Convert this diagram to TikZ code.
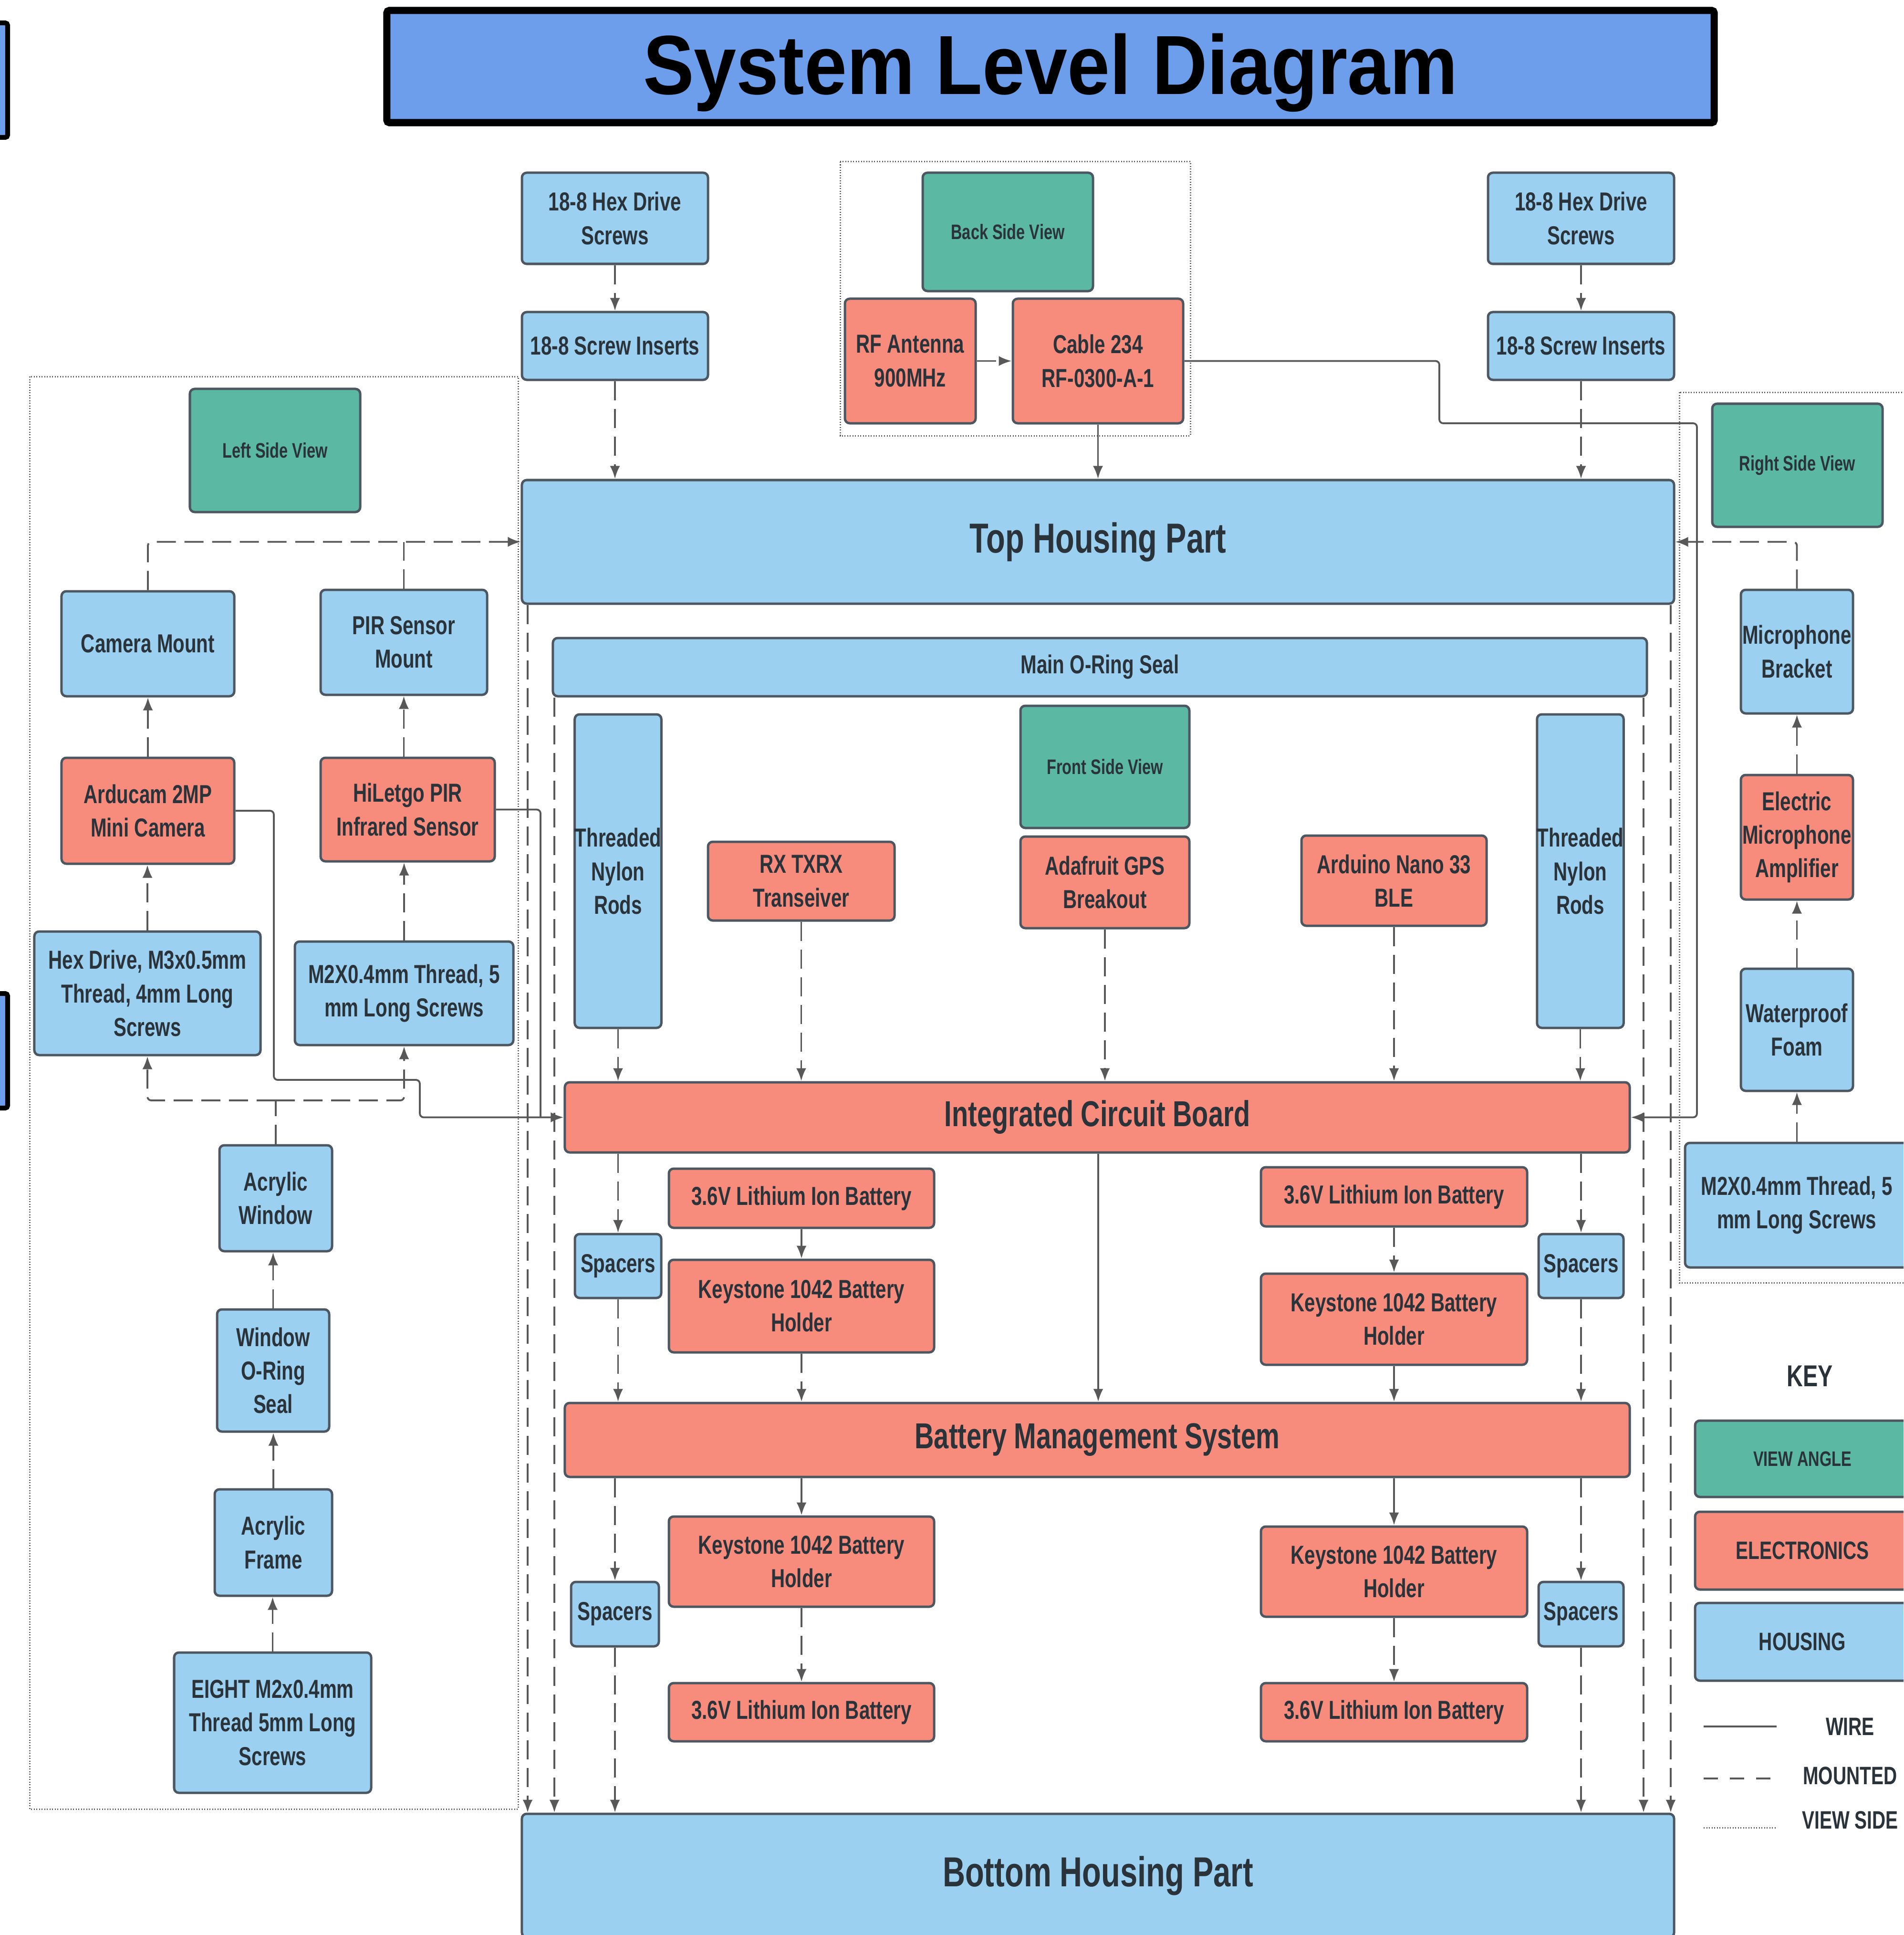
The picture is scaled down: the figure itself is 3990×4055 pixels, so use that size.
\documentclass[tikz,border=0pt]{standalone}
\usepackage{fontspec}
\setmainfont{Liberation Sans}
\newfontfamily\nf{Liberation Sans}[FakeStretch=0.74]
\newfontfamily\tf{Liberation Sans}[FakeStretch=0.91]
\usetikzlibrary{arrows.meta}
\definecolor{hblue}{RGB}{156,208,241}
\definecolor{esal}{RGB}{248,140,124}
\definecolor{vteal}{RGB}{91,184,163}
\definecolor{bcol}{RGB}{77,87,97}
\definecolor{tcol}{RGB}{42,50,58}
\definecolor{lcol}{RGB}{88,88,88}
\definecolor{ttlblue}{RGB}{109,158,235}
\newcommand\bx[7]{%
  \pgfmathsetmacro\bxcx{(#2+#4)/2}\pgfmathsetmacro\bxcy{(#3+#5)/2}%
  \pgfmathsetmacro\bxw{(#4-#2)*0.01}\pgfmathsetmacro\bxh{(#5-#3)*0.01}%
  \node[#6, minimum width=\bxw cm, minimum height=\bxh cm] (#1) at (\bxcx,\bxcy) {#7};}
\tikzset{
  nbase/.style={draw=bcol, line width=0.05cm, rounded corners=0.1cm, align=center, text=tcol, inner sep=0pt,
    font=\nf\bfseries\fontsize{15.5}{20}\selectfont},
  hous/.style={nbase, fill=hblue},
  elec/.style={nbase, fill=esal},
  viewbox/.style={nbase, fill=vteal, font=\nf\bfseries\fontsize{12.5}{15}\selectfont},
  bigf/.style={font=\nf\bfseries\fontsize{25}{30}\selectfont},
  midf/.style={font=\nf\bfseries\fontsize{21.5}{26}\selectfont},
  ttl/.style={draw=black, line width=0.15cm, fill=ttlblue, rounded corners=0.05cm, text=black, inner sep=0pt,
    text height=1.3cm, text depth=0.15cm,
    font=\tf\bfseries\fontsize{50}{60}\selectfont},
  keylab/.style={text=tcol, inner sep=0pt, font=\nf\bfseries\fontsize{15}{18}\selectfont},
  arr/.style={-{Latex[length=0.27cm,width=0.21cm]}},
  wire/.style={draw=lcol, line width=0.038cm, rounded corners=0.08cm},
  mount/.style={draw=lcol, line width=0.038cm, dash pattern=on 0.4cm off 0.18cm, rounded corners=0.08cm},
  vside/.style={draw=lcol, line width=0.03cm, dash pattern=on 0.02cm off 0.035cm},
}
\begin{document}
\begin{tikzpicture}[x=0.01cm, y=-0.01cm]
\useasboundingbox (0,0) rectangle (3990,4055);
\clip (0,0) rectangle (3990,4055);
\fill[white] (0,0) rectangle (3990,4055);

% partial boxes at the left edge
\draw[line width=0.1cm, fill=ttlblue, rounded corners=0.05cm] (-60,48) rectangle (16,288);
\draw[line width=0.1cm, fill=ttlblue, rounded corners=0.05cm] (-60,2082) rectangle (16,2322);

% title
\bx{title}{811}{22}{3593}{257}{ttl}{System Level Diagram}

% view side boxes
\draw[vside] (62,789) rectangle (1086,3791);
\draw[vside] (1761,339) rectangle (2495,913);
\draw[vside] (3520,822) rectangle (4020,2688);

% top row
\bx{hexl}{1094}{362}{1484}{553}{hous}{18-8 Hex Drive\\Screws}
\bx{insl}{1094}{654}{1484}{796}{hous}{18-8 Screw Inserts}
\bx{hexr}{3119}{362}{3509}{553}{hous}{18-8 Hex Drive\\Screws}
\bx{insr}{3119}{654}{3509}{796}{hous}{18-8 Screw Inserts}
\bx{backv}{1934}{362}{2291}{610}{viewbox}{Back Side View}
\bx{rf}{1771}{626}{2045}{887}{elec}{RF Antenna\\900MHz}
\bx{cable}{2123}{626}{2480}{887}{elec}{Cable 234\\RF-0300-A-1}
\bx{top}{1094}{1006}{3509}{1265}{hous,bigf}{Top Housing Part}

% left side
\bx{leftv}{398}{815}{755}{1073}{viewbox}{Left Side View}
\bx{cammt}{129}{1239}{491}{1459}{hous}{Camera Mount}
\bx{pirmt}{672}{1236}{1021}{1456}{hous}{PIR Sensor\\Mount}
\bx{arducam}{129}{1588}{491}{1810}{elec}{Arducam 2MP\\Mini Camera}
\bx{pir}{672}{1588}{1037}{1805}{elec}{HiLetgo PIR\\Infrared Sensor}
\bx{hexm}{72}{1952}{546}{2211}{hous}{Hex Drive, M3x0.5mm\\Thread, 4mm Long\\Screws}
\bx{m2l}{618}{1973}{1076}{2190}{hous}{M2X0.4mm Thread, 5\\mm Long Screws}
\bx{acwin}{460}{2400}{696}{2622}{hous}{Acrylic\\Window}
\bx{wor}{455}{2744}{690}{3000}{hous}{Window\\O-Ring\\Seal}
\bx{acfr}{450}{3121}{696}{3344}{hous}{Acrylic\\Frame}
\bx{eight}{365}{3463}{778}{3757}{hous}{EIGHT M2x0.4mm\\Thread 5mm Long\\Screws}

% center
\bx{mor}{1159}{1337}{3452}{1459}{hous}{Main O-Ring Seal}
\bx{nyl}{1205}{1497}{1386}{2154}{hous}{Threaded\\Nylon\\Rods}
\bx{nyr}{3222}{1497}{3403}{2154}{hous}{Threaded\\Nylon\\Rods}
\bx{frontv}{2139}{1479}{2493}{1735}{viewbox}{Front Side View}
\bx{rx}{1484}{1764}{1875}{1929}{elec}{RX TXRX\\Transeiver}
\bx{gps}{2139}{1753}{2493}{1945}{elec}{Adafruit GPS\\Breakout}
\bx{ard}{2728}{1751}{3116}{1940}{elec}{Arduino Nano 33\\BLE}
\bx{icb}{1184}{2268}{3416}{2415}{elec,midf}{Integrated Circuit Board}
\bx{battl}{1402}{2449}{1958}{2573}{elec}{3.6V Lithium Ion Battery}
\bx{keytl}{1402}{2640}{1958}{2834}{elec}{Keystone 1042 Battery\\Holder}
\bx{battr}{2643}{2446}{3201}{2570}{elec}{3.6V Lithium Ion Battery}
\bx{keytr}{2643}{2669}{3201}{2860}{elec}{Keystone 1042 Battery\\Holder}
\bx{spl1}{1205}{2586}{1386}{2720}{hous}{Spacers}
\bx{spr1}{3225}{2586}{3403}{2720}{hous}{Spacers}
\bx{bms}{1184}{2940}{3416}{3095}{elec,midf}{Battery Management System}
\bx{keybl}{1402}{3178}{1958}{3367}{elec}{Keystone 1042 Battery\\Holder}
\bx{keybr}{2643}{3199}{3201}{3388}{elec}{Keystone 1042 Battery\\Holder}
\bx{spl2}{1197}{3315}{1381}{3450}{hous}{Spacers}
\bx{spr2}{3225}{3315}{3403}{3450}{hous}{Spacers}
\bx{battbl}{1402}{3527}{1958}{3649}{elec}{3.6V Lithium Ion Battery}
\bx{battbr}{2643}{3527}{3201}{3649}{elec}{3.6V Lithium Ion Battery}
\bx{bot}{1094}{3801}{3509}{4060}{hous,bigf}{Bottom Housing Part}

% right side
\bx{rightv}{3589}{846}{3946}{1104}{viewbox}{Right Side View}
\bx{micb}{3649}{1236}{3884}{1495}{hous}{Microphone\\Bracket}
\bx{mica}{3649}{1624}{3884}{1885}{elec}{Electric\\Microphone\\Amplifier}
\bx{foam}{3649}{2030}{3884}{2286}{hous}{Waterproof\\Foam}
\bx{m2r}{3532}{2395}{4000}{2656}{hous}{M2X0.4mm Thread, 5\\mm Long Screws}

% key
\node[keylab, font=\nf\bfseries\fontsize{18}{22}\selectfont] (key) at (3794,2884) {KEY};
\bx{kva}{3553}{2977}{4003}{3137}{viewbox}{VIEW ANGLE}
\bx{kel}{3553}{3168}{4003}{3331}{elec, font=\nf\bfseries\fontsize{15}{18}\selectfont}{ELECTRONICS}
\bx{kho}{3553}{3359}{4003}{3522}{hous, font=\nf\bfseries\fontsize{15}{18}\selectfont}{HOUSING}
\coordinate (kw1) at (3571,3618); \coordinate (kw2) at (3724,3618);
\coordinate (km1) at (3571,3727); \coordinate (km2) at (3724,3727);
\coordinate (kv1) at (3571,3830); \coordinate (kv2) at (3724,3830);
\draw[wire] (kw1) -- (kw2);
\draw[mount, dash pattern=on 0.3cm off 0.25cm] (km1) -- (km2);
\draw[vside] (kv1) -- (kv2);
\node[keylab] (kwt) at (3878,3618) {WIRE};
\node[keylab] (kmt) at (3878,3721) {MOUNTED};
\node[keylab] (kvt) at (3878,3814) {VIEW SIDE};

% ---- connectors: top
\draw[mount,arr] (hexl.south) -- (insl.north);
\draw[mount,arr] (insl.south) -- (insl.south |- top.north);
\draw[mount,arr] (hexr.south) -- (insr.north);
\draw[mount,arr] (insr.south) -- (insr.south |- top.north);
\draw[mount,arr] (rf.east) -- (cable.west);
\draw[wire,arr] (cable.south) -- (cable.south |- top.north);
\coordinate (wc1) at (3017,887); \coordinate (wc2) at (3557,887);
\draw[wire,arr] (cable.east) -| (wc1) -- (wc2) |- (icb.east);

% ---- left side
\draw[mount,arr] (cammt.north) |- (top.west);
\draw[mount] (pirmt.north) -- (pirmt.north |- top.west);
\draw[mount,arr] (arducam.north) -- (cammt.south);
\draw[mount,arr] (hexm.north) -- (hexm.north |- arducam.south);
\draw[mount,arr] (pir.north -| pirmt.south) -- (pirmt.south);
\draw[mount,arr] (m2l.north) -- (m2l.north |- pir.south);
\coordinate (aw) at (578,2306);
\draw[mount] (acwin.north) -- (aw);
\draw[mount,arr] (aw) -| (hexm.south);
\draw[mount,arr] (aw) -| (m2l.south);
\draw[mount,arr] (wor.north) -- (wor.north |- acwin.south);
\draw[mount,arr] (acfr.north) -- (acfr.north |- wor.south);
\draw[mount,arr] (eight.north) -- (eight.north |- acfr.south);
\coordinate (wa) at (574,2263); \coordinate (wb) at (880,2263);
\draw[wire,arr] (arducam.east) -| (wa) -- (wb) |- (icb.west);
\coordinate (wd) at (1133,0);
\draw[wire] (pir.east) -| (wd |- icb.west);

% ---- long mounted lines
\coordinate (xa) at (1106,0); \coordinate (xb) at (1162,0);
\coordinate (xc) at (3445,0); \coordinate (xd) at (3502,0);
\draw[mount,arr] (top.south -| xa) -- (bot.north -| xa);
\draw[mount,arr] (mor.south -| xb) -- (bot.north -| xb);
\draw[mount,arr] (mor.south -| xc) -- (bot.north -| xc);
\draw[mount,arr] (top.south -| xd) -- (bot.north -| xd);

% ---- center
\draw[mount,arr] (nyl.south) -- (nyl.south |- icb.north);
\draw[mount,arr] (rx.south) -- (rx.south |- icb.north);
\draw[mount,arr] (gps.south) -- (gps.south |- icb.north);
\draw[mount,arr] (ard.south) -- (ard.south |- icb.north);
\draw[mount,arr] (nyr.south) -- (nyr.south |- icb.north);
\draw[mount,arr] (spl1.north |- icb.south) -- (spl1.north);
\draw[mount,arr] (spl1.south) -- (spl1.south |- bms.north);
\draw[mount,arr] (spr1.north |- icb.south) -- (spr1.north);
\draw[mount,arr] (spr1.south) -- (spr1.south |- bms.north);
\coordinate (xm) at (2302,0);
\draw[wire,arr] (icb.south -| xm) -- (bms.north -| xm);
\draw[wire,arr] (battl.south) -- (keytl.north);
\draw[mount,arr] (keytl.south) -- (keytl.south |- bms.north);
\draw[mount,arr] (battr.south) -- (keytr.north);
\draw[wire,arr] (keytr.south) -- (keytr.south |- bms.north);
\draw[wire,arr] (keybl.north |- bms.south) -- (keybl.north);
\draw[mount,arr] (keybl.south) -- (battbl.north);
\draw[wire,arr] (keybr.north |- bms.south) -- (keybr.north);
\draw[mount,arr] (keybr.south) -- (battbr.north);
\draw[mount,arr] (spl2.north |- bms.south) -- (spl2.north);
\draw[mount,arr] (spl2.south) -- (spl2.south |- bot.north);
\draw[mount,arr] (spr2.north |- bms.south) -- (spr2.north);
\draw[mount,arr] (spr2.south) -- (spr2.south |- bot.north);

% ---- right side
\draw[mount,arr] (micb.north) |- (top.east);
\draw[mount,arr] (mica.north) -- (micb.south);
\draw[mount,arr] (foam.north) -- (mica.south);
\draw[mount,arr] (m2r.north -| foam.south) -- (foam.south);
\end{tikzpicture}
\end{document}
